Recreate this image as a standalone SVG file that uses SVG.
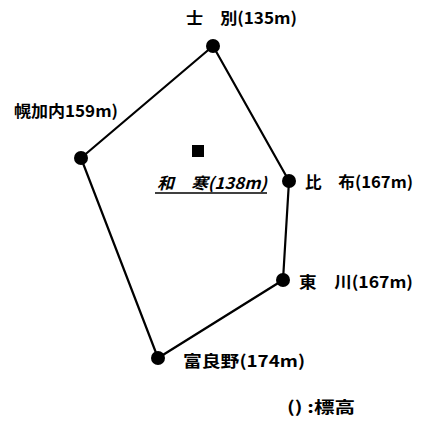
<svg xmlns="http://www.w3.org/2000/svg" width="423" height="422" viewBox="0 0 423 422">
<style>
.t{font-family:"Noto Sans CJK JP","Liberation Sans",sans-serif;font-size:16px;font-weight:bold;fill:#000}
.e{stroke:#000;stroke-width:2.2;fill:none}
.d{fill:#000}
</style>
<rect width="423" height="422" fill="#fff"/>
<g id="connectors">
<polyline class="e" points="213,46 289,181 283,280 158,358 81,158 213,46"/>
</g>
<g id="shibetsu"><circle class="d" cx="213" cy="46" r="7"/><text class="t" x="186" y="24" textLength="111" lengthAdjust="spacingAndGlyphs">士　別(135m)</text></g>
<g id="horokanai"><circle class="d" cx="81" cy="158" r="7"/><text class="t" x="14" y="117" textLength="104" lengthAdjust="spacingAndGlyphs">幌加内159m)</text></g>
<g id="pippu"><circle class="d" cx="289" cy="181" r="7"/><text class="t" x="305" y="188" textLength="108" lengthAdjust="spacingAndGlyphs">比　布(167m)</text></g>
<g id="higashikawa"><circle class="d" cx="283" cy="280" r="7"/><text class="t" x="299" y="288" textLength="114" lengthAdjust="spacingAndGlyphs">東　川(167m)</text></g>
<g id="furano"><circle class="d" cx="158" cy="358" r="7"/><text class="t" x="183" y="367" textLength="122" lengthAdjust="spacingAndGlyphs">富良野(174m)</text></g>
<g id="wassamu"><rect class="d" x="192" y="145" width="12" height="12"/><text class="t" x="157" y="189" font-style="italic" font-weight="normal" textLength="110" lengthAdjust="spacingAndGlyphs">和　寒(138m)</text><line x1="155" y1="193" x2="267" y2="193" stroke="#000" stroke-width="1.5"/></g>
<g id="legend"><text class="t" x="287" y="413" textLength="68" lengthAdjust="spacingAndGlyphs">() :標高</text></g>
</svg>
